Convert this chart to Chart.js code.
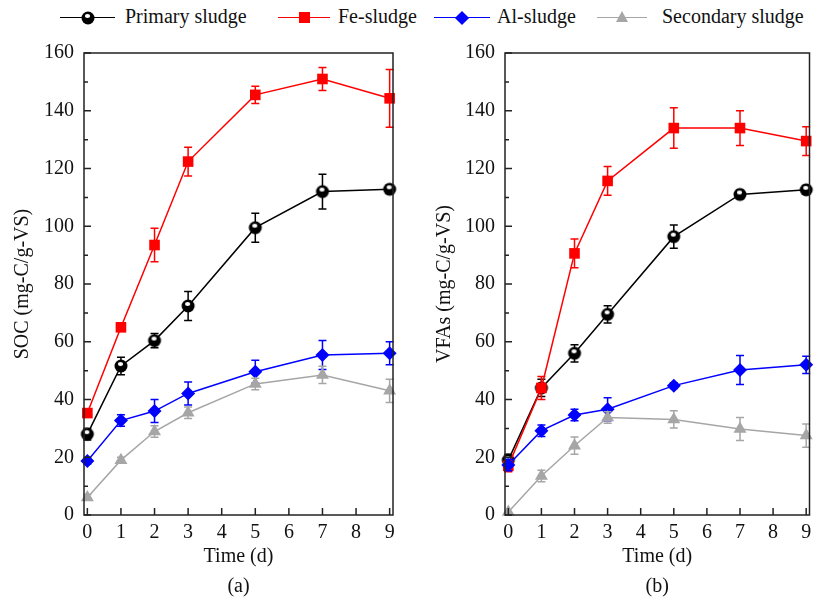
<!DOCTYPE html>
<html lang="en">
<head>
  <meta charset="UTF-8">
  <title>SOC and VFAs</title>
  <script src="https://cdn.jsdelivr.net/npm/chart.js"></script>
  <style>
    body {
      margin: 0;
      background: #fff;
      font-family: "Liberation Serif", "Times New Roman", serif;
      width: 817px;
      height: 601px;
      position: relative;
      overflow: hidden;
    }
    canvas { position: absolute; top: 0; }
    #chartA { left: 0; }
    #chartB { left: 420px; }
    .leg-line { position: absolute; top: 17px; height: 0; border-top: 1.5px solid; }
    .leg-mark { position: absolute; }
    .leg-text { position: absolute; top: 4px; font-size: 20px; line-height: 24px; color: #111; white-space: nowrap; }
  </style>
</head>
<body>
  <div id="legend"></div>
  <canvas id="chartA" width="420" height="601"></canvas>
  <canvas id="chartB" width="397" height="601"></canvas>

  <script>
    const days = [0, 1, 2, 3, 5, 7, 9];
    const xTicks = [0, 1, 2, 3, 4, 5, 6, 7, 8, 9];
    const yTicks = [0, 20, 40, 60, 80, 100, 120, 140, 160];
    const seriesNames = ['Primary sludge', 'Fe-sludge', 'Al-sludge', 'Secondary sludge'];

    // (a) SOC
    const socPrimary = [28, 51.6, 60.4, 72.4, 99.5, 112, 112.8];
    const socPrimaryErr = [2, 3, 2.5, 5, 5, 6, 1.5];
    const socFe = [35.3, 65, 93.5, 122.4, 145.5, 151, 144.3];
    const socFeErr = [1, 1, 5.8, 5, 3, 4, 10];
    const socAl = [18.7, 32.7, 36, 42.1, 49.6, 55.4, 56];
    const socAlErr = [1, 2, 4, 4, 4, 5, 4];
    const socSec = [6.1, 19, 28.9, 35.4, 45.4, 48.5, 43];
    const socSecErr = [1, 1, 2, 2, 2, 3, 4];

    // (b) VFAs
    const vfaPrimary = [19, 44, 56, 69.5, 96.4, 111, 112.6];
    const vfaPrimaryErr = [2, 3, 3, 3, 4, 1.5, 1.5];
    const vfaFe = [17, 44, 90.6, 115.7, 134, 134, 129.5];
    const vfaFeErr = [2, 4, 5, 5, 7, 6, 5];
    const vfaAl = [17.3, 29.2, 34.6, 36.6, 44.8, 50.2, 52];
    const vfaAlErr = [2, 2, 2, 4, 1, 5, 3];
    const vfaSec = [1, 13.5, 24, 33.8, 33.1, 29.8, 27.5];
    const vfaSecErr = [0, 2, 3, 2, 3, 4, 4];

    const colors = ['#000000', '#ff0000', '#0000ff', '#a6a6a6'];

    // black "ball" marker
    function ballMarker() {
      const c = document.createElement('canvas');
      c.width = 16; c.height = 16;
      const g = c.getContext('2d');
      g.fillStyle = '#000';
      g.beginPath(); g.arc(8, 8, 6.5, 0, Math.PI * 2); g.fill();
      g.fillStyle = '#fff';
      g.beginPath(); g.ellipse(7.5, 6, 2.6, 1.9, 0, 0, Math.PI * 2); g.fill();
      return c;
    }
    const ball = ballMarker();

    function makeSets(vals, errs) {
      const styles = [ball, 'rect', 'rectRot', 'triangle'];
      const radius = [6.5, 7.5, 7, 7.5];
      return vals.map((v, k) => ({
        label: seriesNames[k],
        data: days.map((d, i) => ({ x: d, y: v[i] })),
        err: errs[k],
        borderColor: colors[k],
        backgroundColor: colors[k],
        borderWidth: 1.5,
        pointStyle: styles[k],
        pointRadius: radius[k],
        pointBorderWidth: 0,
        pointBackgroundColor: colors[k],
        clip: false,
        order: 4 - k
      }));
    }

    const errorBars = {
      id: 'errorBars',
      beforeDatasetDraw(chart, args) {
        const ds = chart.data.datasets[args.index];
        const meta = args.meta;
        const ys = chart.scales.y;
        const ctx = chart.ctx;
        ctx.save();
        ctx.strokeStyle = ds.borderColor;
        ctx.lineWidth = 1.5;
        meta.data.forEach((pt, i) => {
          const e = ds.err[i];
          if (!e) return;
          const v = ds.data[i].y;
          const t = ys.getPixelForValue(v + e);
          const b = ys.getPixelForValue(v - e);
          ctx.beginPath();
          ctx.moveTo(pt.x, t); ctx.lineTo(pt.x, b);
          ctx.moveTo(pt.x - 4, t); ctx.lineTo(pt.x + 4, t);
          ctx.moveTo(pt.x - 4, b); ctx.lineTo(pt.x + 4, b);
          ctx.stroke();
        });
        ctx.restore();
      }
    };

    const frame = {
      id: 'frame',
      afterDraw(chart) {
        const { ctx, chartArea: a, scales } = chart;
        ctx.save();
        ctx.strokeStyle = '#222';
        ctx.lineWidth = 1.5;
        ctx.strokeRect(a.left, a.top, a.right - a.left, a.bottom - a.top);
        ctx.beginPath();
        for (let v = 0; v <= 160; v += 10) {
          const y = scales.y.getPixelForValue(v);
          const len = v % 20 === 0 ? 7 : 4;
          ctx.moveTo(a.left, y); ctx.lineTo(a.left + len, y);
        }
        xTicks.forEach(v => {
          const x = scales.x.getPixelForValue(v);
          ctx.moveTo(x, a.bottom); ctx.lineTo(x, a.bottom - 7);
        });
        ctx.stroke();
        ctx.restore();
      }
    };

    function makeChart(id, sets, yTitle, panel, yWidth, padRight, yTitlePad) {
      return new Chart(document.getElementById(id), {
        type: 'line',
        data: { datasets: sets },
        options: {
          responsive: false,
          animation: false,
          devicePixelRatio: 1,
          layout: { padding: { top: 53, right: padRight, left: 0, bottom: 0 } },
          plugins: { legend: { display: false }, tooltip: { enabled: false } },
          scales: {
            x: {
              type: 'linear',
              min: -0.1,
              max: 9.1,
              grid: { display: false, drawTicks: false },
              border: { display: false },
              afterBuildTicks: s => { s.ticks = xTicks.map(v => ({ value: v })); },
              afterFit: s => { s.height = 86; s.paddingLeft = 0; s.paddingRight = 0; },
              ticks: {
                autoSkip: false, maxRotation: 0, padding: 6, color: '#111',
                font: { family: 'Liberation Serif', size: 20 }
              },
              title: {
                display: true,
                text: ['Time (d)', panel],
                color: '#111',
                padding: { top: 0, bottom: -1 },
                font: { family: 'Liberation Serif', size: 20, lineHeight: 1.5 }
              }
            },
            y: {
              min: 0,
              max: 160,
              grid: { display: false, drawTicks: false },
              border: { display: false },
              afterBuildTicks: s => { s.ticks = yTicks.map(v => ({ value: v })); },
              afterFit: s => { s.width = yWidth; s.paddingTop = 0; s.paddingBottom = 0; },
              ticks: {
                padding: 10, color: '#111',
                font: { family: 'Liberation Serif', size: 20 }
              },
              title: {
                display: true,
                text: yTitle,
                color: '#111',
                padding: { top: yTitlePad, bottom: 0 },
                font: { family: 'Liberation Serif', size: 20, lineHeight: 1.2 }
              }
            }
          }
        },
        plugins: [errorBars, frame]
      });
    }

    makeChart('chartA',
      makeSets([socPrimary, socFe, socAl, socSec], [socPrimaryErr, socFeErr, socAlErr, socSecErr]),
      'SOC (mg-C/g-VS)', '(a)', 84, 27, 11);
    makeChart('chartB',
      makeSets([vfaPrimary, vfaFe, vfaAl, vfaSec], [vfaPrimaryErr, vfaFeErr, vfaAlErr, vfaSecErr]),
      'VFAs (mg-C/g-VS)', '(b)', 85, 4, 13);

    // legend across both panels
    const legendItems = [
      { line: [60, 115], mark: 88, text: 125 },
      { line: [278, 330], mark: 304, text: 338 },
      { line: [434, 490], mark: 462, text: 497 },
      { line: [597, 647], mark: 622, text: 662 }
    ];
    const legend = document.getElementById('legend');
    legendItems.forEach((it, k) => {
      const ln = document.createElement('div');
      ln.className = 'leg-line';
      ln.style.left = it.line[0] + 'px';
      ln.style.width = (it.line[1] - it.line[0]) + 'px';
      ln.style.borderColor = colors[k];
      legend.appendChild(ln);

      let mk;
      if (k === 0) {
        mk = ball.cloneNode();
        mk.getContext('2d').drawImage(ball, 0, 0);
        mk.style.position = 'absolute';
        mk.style.left = (it.mark - 8) + 'px';
        mk.style.top = '10px';
      } else {
        mk = document.createElement('div');
        mk.className = 'leg-mark';
        if (k === 1) {
          Object.assign(mk.style, { left: (it.mark - 5.5) + 'px', top: '12px', width: '11px', height: '11px', background: colors[1] });
        } else if (k === 2) {
          Object.assign(mk.style, { left: (it.mark - 5) + 'px', top: '12.5px', width: '10px', height: '10px', background: colors[2], transform: 'rotate(45deg)' });
        } else {
          Object.assign(mk.style, { left: (it.mark - 6.5) + 'px', top: '11px', width: 0, height: 0,
            borderLeft: '6.5px solid transparent', borderRight: '6.5px solid transparent', borderBottom: '11px solid ' + colors[3] });
        }
      }
      legend.appendChild(mk);

      const tx = document.createElement('span');
      tx.className = 'leg-text';
      tx.style.left = it.text + 'px';
      tx.textContent = seriesNames[k];
      legend.appendChild(tx);
    });
  </script>
</body>
</html>
